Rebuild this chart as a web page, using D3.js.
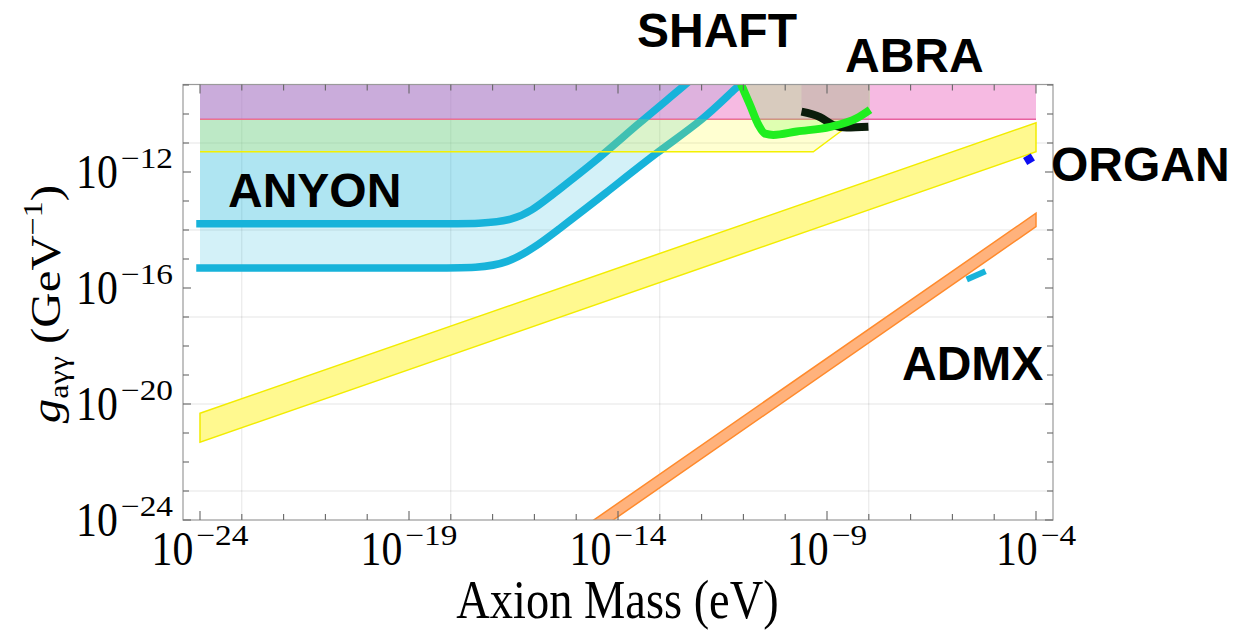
<!DOCTYPE html>
<html>
<head>
<meta charset="utf-8">
<script src="https://cdn.jsdelivr.net/npm/d3@7"></script>
<style>
  html, body { margin: 0; padding: 0; background: #fff; }
  svg { display: block; }
</style>
</head>
<body>
<svg id="chart" width="1234" height="630"></svg>
<script>
// ---- axis ticks ----
const massMajor = [1e-24, 1e-19, 1e-14, 1e-9, 1e-4];
const massMajorLabels = ["\u221224", "\u221219", "\u221214", "\u22129", "\u22124"];
const massGrid = [1e-23, 1e-18, 1e-13, 1e-8];
const couplingMajor = [1e-24, 1e-20, 1e-16, 1e-12];
const couplingMajorLabels = ["\u221224", "\u221220", "\u221216", "\u221212"];
const couplingGrid = [1e-23, 1e-20, 1e-17, 1e-14, 1e-11];

// ---- exclusion / sensitivity regions: [mass eV, g GeV^-1] ----
const castMass = [1e-24, 1e-4];
const castLimit = 6.6e-11;

const lightYellowRegion = [[1e-24, 5e-12], [4.7e-10, 5e-12], [5.2e-9, 6.6e-11], [1e-24, 6.6e-11]];

// ANYON reach: flat plateau, then a rising branch (control points of a smoothed curve)
const anyonUpper = [[1e-24, 1.65e-14], [1e-18, 1.65e-14], [3.6e-17, 1.65e-14],
  [2.3e-16, 1.4e-13], [2.6e-15, 2e-12], [2.8e-14, 4.2e-11], [3.6e-13, 8.7e-10], [1e-12, 3.2e-9]];
const anyonLower = [[1e-24, 4.9e-16], [1e-18, 4.9e-16], [2.35e-17, 4.9e-16],
  [4.1e-16, 1.15e-14], [4.5e-15, 1.6e-13], [9.1e-14, 5.2e-12], [1.1e-12, 6.2e-11],
  [6.9e-12, 8.7e-10], [2.5e-11, 4e-9]];

const shaft = [[8.7e-12, 1.1e-9], [1.45e-11, 2.0e-10], [2.3e-11, 4.2e-11], [3.3e-11, 2.1e-11],
  [5.2e-11, 1.9e-11], [1.9e-10, 2.5e-11], [1.2e-9, 3.6e-11], [5.1e-9, 7.1e-11], [1.07e-8, 1.4e-10]];
const abra = [[2.45e-10, 1.2e-10], [6.8e-10, 7.8e-11], [1.4e-9, 4.2e-11], [2.95e-9, 3.4e-11], [9.8e-9, 3.6e-11]];

// broad bands: mass endpoints with upper / lower coupling
const yellowBandMass = [1e-24, 1e-4];
const yellowBandUpper = [4.8e-21, 5e-11];
const yellowBandLower = [4.8e-22, 5e-12];
const orangeBandMass = [1e-15, 1e-4];
const orangeBandUpper = [3.8e-25, 3.8e-14];
const orangeBandLower = [1.3e-25, 1.3e-14];

// single-experiment results
const admx = [[2.2e-6, 1.95e-16], [6.2e-6, 3.8e-16]];
const organ = [[5.5e-5, 2.3e-12], [8.4e-5, 3.3e-12]];

const experimentLabels = ["SHAFT", "ABRA", "ANYON", "ORGAN", "ADMX"];

// ---- layout ----
const frame = { left: 183, right: 1053, top: 84.5, bottom: 520 };
const svg = d3.select("#chart");

const x = d3.scaleLog().domain([1e-24, 1e-4]).range([200, 1036]);
const y = d3.scaleLog().domain([1e-24, 1e-9]).range([520, 85]);

const serif = "'Liberation Serif', 'Times New Roman', serif";
const sans = "'Liberation Sans', Arial, sans-serif";
const squeeze = 0.87;

svg.append("defs").append("clipPath").attr("id", "plotClip")
  .append("rect")
  .attr("x", frame.left).attr("y", frame.top)
  .attr("width", frame.right - frame.left).attr("height", frame.bottom - frame.top);

// gridlines
const grid = svg.append("g").attr("stroke", "#000").attr("stroke-opacity", 0.1).attr("stroke-width", 1);
grid.selectAll(".gx").data(massGrid).join("line")
  .attr("x1", d => x(d)).attr("x2", d => x(d))
  .attr("y1", frame.top).attr("y2", frame.bottom);
grid.selectAll(".gy").data(couplingGrid).join("line")
  .attr("x1", frame.left).attr("x2", frame.right)
  .attr("y1", d => y(d)).attr("y2", d => y(d));

const plot = svg.append("g").attr("clip-path", "url(#plotClip)");

const lineGen = d3.line().x(d => x(d[0])).y(d => y(d[1]));
const smoothLine = d3.line().x(d => x(d[0])).y(d => y(d[1])).curve(d3.curveMonotoneX);
const aboveArea = d3.area().x(d => x(d[0])).y0(y(1e-9) - 40).y1(d => y(d[1])).curve(d3.curveMonotoneX);
const basisLine = d3.line().x(d => x(d[0])).y(d => y(d[1])).curve(d3.curveBasis);
const basisArea = d3.area().x(d => x(d[0])).y0(y(1e-9) - 40).y1(d => y(d[1])).curve(d3.curveBasis);

const anyonColor = "#17b3da";

// ANYON reach: fills above each curve
plot.append("path").datum(anyonLower).attr("d", basisArea)
  .attr("fill", anyonColor).attr("fill-opacity", 0.19);
plot.append("path").datum(anyonUpper).attr("d", basisArea)
  .attr("fill", anyonColor).attr("fill-opacity", 0.19);

// CAST-like band at the top
plot.append("rect")
  .attr("x", x(castMass[0])).attr("width", x(castMass[1]) - x(castMass[0]))
  .attr("y", y(1e-9) - 2).attr("height", y(castLimit) - y(1e-9) + 2)
  .attr("fill", "rgb(235,102,191)").attr("fill-opacity", 0.45);
plot.append("line")
  .attr("x1", x(castMass[0])).attr("x2", x(castMass[1]))
  .attr("y1", y(castLimit)).attr("y2", y(castLimit))
  .attr("stroke", "#e8619f").attr("stroke-width", 1.5);

// ANYON curves
[anyonUpper, anyonLower].forEach(c => {
  plot.append("path").datum(c).attr("d", basisLine)
    .attr("fill", "none").attr("stroke", anyonColor)
    .attr("stroke-width", 7.5).attr("stroke-linecap", "square");
});

// pale yellow region
plot.append("path").datum(lightYellowRegion).attr("d", d => lineGen(d) + "Z")
  .attr("fill", "#ffff00").attr("fill-opacity", 0.18);
plot.append("path").datum(lightYellowRegion.slice(0, 3)).attr("d", lineGen)
  .attr("fill", "none").attr("stroke", "#f4f000").attr("stroke-width", 1.5);

// diagonal yellow band
const yellowBand = yellowBandMass.map((m, i) => [m, yellowBandLower[i], yellowBandUpper[i]]);
const bandArea = d3.area().x(d => x(d[0])).y0(d => y(d[1])).y1(d => y(d[2]));
plot.append("path").datum(yellowBand).attr("d", bandArea)
  .attr("fill", "#fff98f").attr("stroke", "#f2ec00").attr("stroke-width", 1.5);

// orange band
const orangeBand = orangeBandMass.map((m, i) => [m, orangeBandLower[i], orangeBandUpper[i]]);
plot.append("path").datum(orangeBand).attr("d", bandArea)
  .attr("fill", "#ffb27c").attr("stroke", "#ff8a2c").attr("stroke-width", 1.5);

// SHAFT and ABRA shaded regions
plot.append("path").datum(shaft).attr("d", aboveArea)
  .attr("fill", "rgb(129,255,82)").attr("fill-opacity", 0.25);
plot.append("path").datum(abra).attr("d", aboveArea)
  .attr("fill", "rgb(189,97,177)").attr("fill-opacity", 0.15);

plot.append("path").datum(abra).attr("d", smoothLine)
  .attr("fill", "none").attr("stroke", "#0a1c0a").attr("stroke-width", 8);
plot.append("path").datum(shaft).attr("d", smoothLine)
  .attr("fill", "none").attr("stroke", "#20ee20").attr("stroke-width", 8)
  .attr("stroke-linejoin", "round");

// ADMX and ORGAN points
plot.append("path").datum(admx).attr("d", lineGen)
  .attr("stroke", anyonColor).attr("stroke-width", 6);
plot.append("path").datum(organ).attr("d", lineGen)
  .attr("stroke", "#0d0df2").attr("stroke-width", 8.3);

// frame
svg.append("rect")
  .attr("x", frame.left).attr("y", frame.top)
  .attr("width", frame.right - frame.left).attr("height", frame.bottom - frame.top)
  .attr("fill", "none").attr("stroke", "#9a9a9a").attr("stroke-width", 1.2);

// ticks on all four sides, pointing inward
const massDecades = d3.range(-24, -3).map(e => Math.pow(10, e));
const couplingDecades = d3.range(-24, -8).map(e => Math.pow(10, e));
const isMajor = (v, list) => list.some(t => Math.abs(Math.log10(t) - Math.log10(v)) < 1e-6);
const ticks = svg.append("g").attr("stroke", "#666").attr("stroke-width", 1.1);
massDecades.forEach(v => {
  const len = isMajor(v, massMajor) ? 9 : 6;
  ticks.append("line").attr("x1", x(v)).attr("x2", x(v)).attr("y1", frame.bottom).attr("y2", frame.bottom - len);
  ticks.append("line").attr("x1", x(v)).attr("x2", x(v)).attr("y1", frame.top).attr("y2", frame.top + len);
});
couplingDecades.forEach(v => {
  const len = isMajor(v, couplingMajor) ? 8 : 6;
  ticks.append("line").attr("x1", frame.left).attr("x2", frame.left + len).attr("y1", y(v)).attr("y2", y(v));
  ticks.append("line").attr("x1", frame.right).attr("x2", frame.right - len).attr("y1", y(v)).attr("y2", y(v));
});

// tick labels: "10" with a raised exponent
function powerLabel(g, px, baseY, exp, anchor) {
  const grp = g.append("g").attr("font-family", serif).attr("fill", "#000");
  const base = grp.append("text").attr("font-size", 48).text("10")
    .attr("transform", `scale(${squeeze},1)`);
  const bw = base.node().getComputedTextLength() * squeeze;
  const supScale = 1.15;
  const sup = grp.append("text").attr("font-size", 29).text(exp);
  const sw = sup.node().getComputedTextLength() * supScale;
  const gap = 3;
  sup.attr("transform", `translate(${bw + gap},-20) scale(${supScale},1)`);
  const total = bw + gap + sw;
  const left = anchor === "middle" ? px - total / 2 : px - total;
  grp.attr("transform", `translate(${left},${baseY})`);
}
const labels = svg.append("g");
massMajor.forEach((v, i) => powerLabel(labels, x(v), frame.bottom + 45, massMajorLabels[i], "middle"));
couplingMajor.forEach((v, i) => powerLabel(labels, 173, y(v) + 16, couplingMajorLabels[i], "end"));

// axis titles
svg.append("text")
  .attr("transform", `translate(617.5,618) scale(0.86,1)`)
  .attr("text-anchor", "middle")
  .attr("font-family", serif).attr("font-size", 54).attr("fill", "#000")
  .text("Axion Mass (eV)");

const yTitle = svg.append("text")
  .attr("transform", `translate(60,304) scale(${squeeze},1) rotate(-90)`)
  .attr("text-anchor", "middle")
  .attr("font-family", serif).attr("font-size", 49).attr("fill", "#000");
yTitle.append("tspan").attr("font-style", "italic").text("g");
yTitle.append("tspan").attr("font-size", 32).attr("dy", 9).text("a\u03b3\u03b3");
yTitle.append("tspan").attr("dy", -9).text(" (GeV");
yTitle.append("tspan").attr("font-size", 32).attr("dy", -21).text("\u22121");
yTitle.append("tspan").attr("dy", 21).text(")");

// experiment names
const namePos = [[637, 47], [845, 71.7], [228, 206.7], [1051, 180.7], [902, 380]];
svg.append("g").selectAll("text").data(experimentLabels).join("text")
  .attr("x", (d, i) => namePos[i][0]).attr("y", (d, i) => namePos[i][1])
  .attr("font-family", sans).attr("font-weight", "bold").attr("font-size", 48)
  .attr("fill", "#000").text(d => d);
</script>
</body>
</html>
